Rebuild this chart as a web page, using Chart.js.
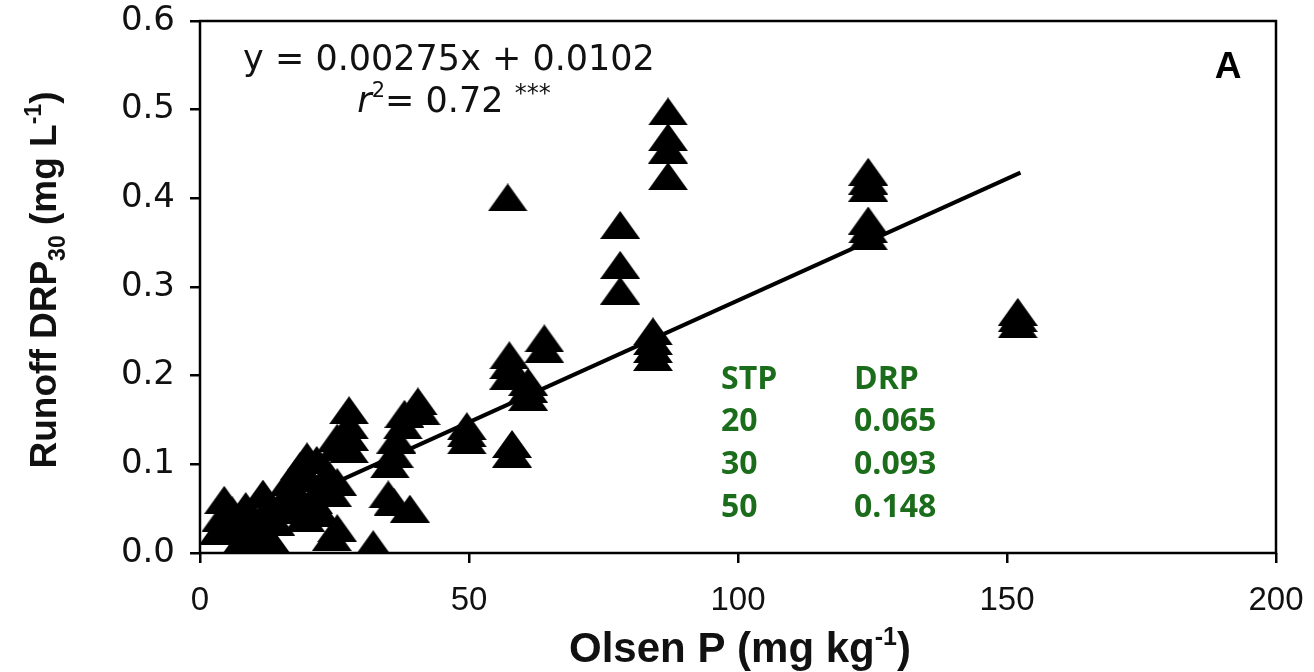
<!DOCTYPE html>
<html>
<head>
<meta charset="utf-8">
<script src="https://cdn.jsdelivr.net/npm/chart.js@4.4.0/dist/chart.umd.min.js"></script>
<style>
  html, body { margin: 0; padding: 0; background: #fff; }
</style>
</head>
<body>
<canvas id="canvas-1" width="1314" height="672"></canvas>
<script>
// Olsen P (mg/kg) and runoff DRP30 (mg/L)
var olsenP = [
  3.5, 4.0, 4.5, 6.0, 7.0, 8.0, 8.5, 9.5, 10.0, 11.0, 11.7, 12.5, 13.0, 14.0,
  19.9, 18.6, 21.7, 23.8, 16.5, 20.0, 22.5, 18.0, 21.0, 24.5, 17.0, 19.5, 22.5, 15.5, 25.5,
  25.5, 25.5, 27.7, 27.7, 27.7, 27.7, 25.5, 24.5, 32.2,
  40.5, 41.0, 38.0, 37.7, 36.5, 36.0, 35.3, 35.0, 36.0, 39.0,
  49.6, 49.6, 49.6, 58.0, 58.0,
  57.5, 57.5, 57.5, 64.0, 64.0, 61.0, 61.0, 61.0,
  57.2, 78.1, 78.1, 78.1,
  84.2, 84.2, 84.2, 84.2,
  87.0, 87.0, 87.0, 87.0,
  124.2, 124.2, 124.2, 124.2, 124.2, 124.2,
  152.0, 152.0, 152.0
];
var runoffDRP = [
  0.025, 0.040, 0.060, 0.048, 0.032, 0.016, 0.053, 0.040, 0.012, 0.025, 0.067, 0.050, 0.016, 0.035,
  0.109, 0.098, 0.105, 0.090, 0.080, 0.085, 0.075, 0.065, 0.060, 0.068, 0.048, 0.040, 0.045, 0.060, 0.080,
  0.130, 0.120, 0.161, 0.144, 0.131, 0.117, 0.028, 0.018, 0.010,
  0.171, 0.160, 0.157, 0.144, 0.128, 0.112, 0.100, 0.066, 0.058, 0.050,
  0.143, 0.135, 0.127, 0.123, 0.112,
  0.223, 0.212, 0.200, 0.242, 0.230, 0.193, 0.185, 0.176,
  0.401, 0.370, 0.325, 0.296,
  0.250, 0.239, 0.230, 0.221,
  0.498, 0.469, 0.455, 0.425,
  0.430, 0.420, 0.412, 0.375, 0.365, 0.357,
  0.272, 0.265, 0.258
];
// fitted line end points
var fitX = [26.5, 152.5];
var fitY = [0.083, 0.429];

var xTicks = [0, 50, 100, 150, 200];
var yTicks = [0, 0.1, 0.2, 0.3, 0.4, 0.5, 0.6];

var tableHead = ['STP', 'DRP'];
var tableSTP = ['20', '30', '50'];
var tableDRP = ['0.065', '0.093', '0.148'];

var points = olsenP.map(function (x, i) { return { x: x, y: runoffDRP[i] }; });
var fitLine = fitX.map(function (x, i) { return { x: x, y: fitY[i] }; });

// filled triangle marker
var tri = document.createElement('canvas');
tri.width = 40; tri.height = 28;
var tc = tri.getContext('2d');
tc.fillStyle = '#000';
tc.beginPath();
tc.moveTo(20, 0); tc.lineTo(40, 28); tc.lineTo(0, 28);
tc.closePath();
tc.fill();

function drawParts(ctx, parts, x, y, align) {
  var total = 0;
  parts.forEach(function (p) { ctx.font = p.font; p.w = ctx.measureText(p.text).width; total += p.w; });
  var cx = align === 'center' ? x - total / 2 : x;
  parts.forEach(function (p) {
    ctx.font = p.font;
    ctx.fillText(p.text, cx, y + (p.dy || 0));
    cx += p.w;
  });
}

var textPlugin = {
  id: 'figText',
  afterDraw: function (chart) {
    var ctx = chart.ctx, a = chart.chartArea;
    ctx.save();
    ctx.strokeStyle = '#000';
    ctx.lineWidth = 2.5;
    ctx.strokeRect(a.left, a.top, a.right - a.left, a.bottom - a.top);

    ctx.fillStyle = '#111';
    ctx.textAlign = 'left';
    ctx.textBaseline = 'alphabetic';
    var f = '"DejaVu Sans", sans-serif';
    drawParts(ctx, [{ text: 'y = 0.00275x + 0.0102', font: '35px ' + f }], 449, 70, 'center');
    drawParts(ctx, [
      { text: 'r', font: 'italic 35px ' + f },
      { text: '2', font: '21px ' + f, dy: -15 },
      { text: '= 0.72 ', font: '35px ' + f },
      { text: '***', font: '24px ' + f, dy: -11 }
    ], 454, 112, 'center');

    ctx.fillStyle = '#000';
    drawParts(ctx, [{ text: 'A', font: 'bold 37px "Liberation Sans", Arial' }], 1228, 78, 'center');

    // green table
    ctx.fillStyle = '#1b6d1b';
    var tf = 'bold 32px "Open Sans", sans-serif';
    var rows = [[tableHead[0], tableHead[1]]];
    tableSTP.forEach(function (s, i) { rows.push([s, tableDRP[i]]); });
    var base = [389, 431, 474, 517];
    rows.forEach(function (r, i) {
      ctx.font = tf;
      ctx.fillText(r[0], 721, base[i]);
      ctx.fillText(r[1], 854, base[i]);
    });

    // axis titles
    ctx.fillStyle = '#111';
    var bf = 'bold 42px "Liberation Sans", Arial, sans-serif';
    var sf = 'bold 25px "Liberation Sans", Arial, sans-serif';
    drawParts(ctx, [
      { text: 'Olsen P (mg kg', font: bf },
      { text: '-1', font: sf, dy: -17 },
      { text: ')', font: bf }
    ], 740, 662, 'center');

    var yf = 'bold 37px "Liberation Sans", Arial, sans-serif';
    var ys = 'bold 23px "Liberation Sans", Arial, sans-serif';
    ctx.translate(56, 280);
    ctx.rotate(-Math.PI / 2);
    drawParts(ctx, [
      { text: 'Runoff DRP', font: yf },
      { text: '30', font: ys, dy: 9 },
      { text: ' (mg L', font: yf },
      { text: '-1', font: ys, dy: -15 },
      { text: ')', font: yf }
    ], 0, 0, 'center');
    ctx.restore();
  }
};

var ctx = document.getElementById('canvas-1');
var chart = new Chart(ctx, {
  type: 'scatter',
  data: {
    datasets: [
      {
        label: 'DRP30',
        data: points,
        pointStyle: tri,
        pointRadius: 20,
        pointHoverRadius: 20
      },
      {
        label: 'fit',
        data: fitLine,
        showLine: true,
        borderColor: '#000',
        borderWidth: 4,
        pointRadius: 0
      }
    ]
  },
  options: {
    responsive: false,
    animation: false,
    devicePixelRatio: 1,
    layout: { padding: { left: 0, right: 38, top: 20, bottom: 0 } },
    plugins: { legend: { display: false }, tooltip: { enabled: false } },
    scales: {
      x: {
        type: 'linear',
        min: 0, max: 200,
        afterBuildTicks: function (s) { s.ticks = xTicks.map(function (v) { return { value: v }; }); },
        afterFit: function (s) { s.height = 119; s.paddingLeft = 0; s.paddingRight = 0; },
        border: { display: false },
        grid: { drawOnChartArea: false, drawTicks: true, tickLength: 10, color: '#000', lineWidth: 2.5 },
        ticks: {
          color: '#111',
          padding: 18,
          maxRotation: 0,
          font: { family: '"Liberation Sans", Arial, sans-serif', size: 33 }
        }
      },
      y: {
        min: 0, max: 0.6,
        afterBuildTicks: function (s) { s.ticks = yTicks.map(function (v) { return { value: v }; }); },
        afterFit: function (s) { s.width = 200; s.paddingTop = 0; s.paddingBottom = 0; },
        border: { display: false },
        grid: { drawOnChartArea: false, drawTicks: true, tickLength: 10, color: '#000', lineWidth: 2.5 },
        ticks: {
          color: '#111',
          padding: 15,
          font: { family: '"DejaVu Sans", sans-serif', size: 34 },
          callback: function (v) { return Number(v).toFixed(1); }
        }
      }
    }
  },
  plugins: [textPlugin]
});
</script>
</body>
</html>
